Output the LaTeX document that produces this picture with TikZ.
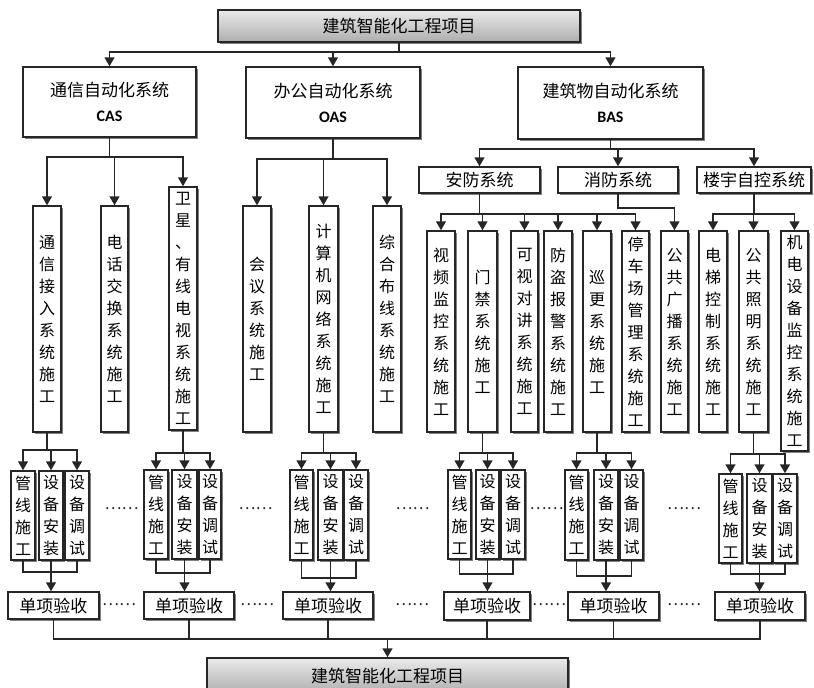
\documentclass[tikz,border=0pt]{standalone}
\usepackage{fontspec}
\newfontfamily\cjk{Noto Sans CJK SC}
\newfontfamily\lat{Carlito}
\usetikzlibrary{arrows.meta,shadows}
\tikzset{
  box/.style={draw=black!85, line width=1.5pt, fill=white, inner sep=0pt,
    drop shadow={shadow xshift=1.6pt, shadow yshift=-1.6pt, fill=black!50, opacity=1},
    font=\cjk\fontsize{17}{25}\selectfont, align=center},
  vbox/.style={box, font=\cjk\fontsize{16}{22}\selectfont},
  graybox/.style={box, top color=black!8, bottom color=black!32},
  conn/.style={draw=black!85, line width=1.6pt},
  arr/.style={conn, -{Triangle[width=10pt,length=9pt]}},
  dots/.style={font=\cjk\fontsize{16}{16}\selectfont, inner sep=0pt, text=black!85}
}
\newcommand\ab[1]{{\lat\bfseries\fontsize{16}{16}\selectfont #1}}
\newcommand\bx[7][box]{\node[#1,minimum width={(#5-#3)*1pt},minimum height={(#6-#4)*1pt}] (#2) at ({(#3+#5)/2},{(#4+#6)/2}) {#7};}
\begin{document}
\begin{tikzpicture}[x=1pt,y=-1pt]
\useasboundingbox (0,0) rectangle (814,688);
% top level
\bx[graybox]{top}{218}{10}{580}{42}{建筑智能化工程项目}
\bx{cas}{23}{67}{196}{137}{通信自动化系统\\\ab{CAS}}
\bx{oas}{246}{67}{420}{138}{办公自动化系统\\\ab{OAS}}
\bx{bas}{518}{67}{703}{139}{建筑物自动化系统\\\ab{BAS}}
\bx{af}{419}{167}{540}{193}{安防系统}
\bx{xf}{558}{167}{678}{193}{消防系统}
\bx{ly}{697}{167}{811}{193}{楼宇自控系统}
% leaves
\bx[vbox]{c1}{33}{206}{61}{432}{通\\信\\接\\入\\系\\统\\施\\工}
\bx[vbox]{c2}{101}{206}{128}{432}{电\\话\\交\\换\\系\\统\\施\\工}
\bx[vbox]{c3}{169}{187}{197}{430}{卫\\星\\、\\有\\线\\电\\视\\系\\统\\施\\工}
\bx[vbox]{o1}{243}{206}{271}{432}{会\\议\\系\\统\\施\\工}
\bx[vbox]{o2}{309}{206}{338}{432}{计\\算\\机\\网\\络\\系\\统\\施\\工}
\bx[vbox]{o3}{373}{206}{401}{432}{综\\合\\布\\线\\系\\统\\施\\工}
\bx[vbox]{b1}{427}{231}{455}{432}{视\\频\\监\\控\\系\\统\\施\\工}
\bx[vbox]{b2}{468}{231}{497}{432}{门\\禁\\系\\统\\施\\工}
\bx[vbox]{b3}{511}{231}{538}{432}{可\\视\\对\\讲\\系\\统\\施\\工}
\bx[vbox]{b4}{544}{231}{572}{432}{防\\盗\\报\\警\\系\\统\\施\\工}
\bx[vbox]{b5}{583}{231}{611}{432}{巡\\更\\系\\统\\施\\工}
\bx[vbox]{b6}{622}{231}{649}{432}{停\\车\\场\\管\\理\\系\\统\\施\\工}
\bx[vbox]{b7}{661}{231}{688}{432}{公\\共\\广\\播\\系\\统\\施\\工}
\bx[vbox]{b8}{699}{231}{727}{432}{电\\梯\\控\\制\\系\\统\\施\\工}
\bx[vbox]{b9}{739}{231}{768}{432}{公\\共\\照\\明\\系\\统\\施\\工}
\bx[vbox]{b10}{781}{231}{808}{451}{机\\电\\设\\备\\监\\控\\系\\统\\施\\工}
% connectors upper
\draw[conn] (top.south) -- ++(0,9) coordinate (j0);
\foreach \n in {cas,oas,bas} \draw[arr] (j0) -| (\n.north);
\draw[conn] (cas.south) -- ++(0,19) coordinate (j1);
\foreach \n in {c1,c2,c3} \draw[arr] (j1) -| (\n.north);
\draw[conn] (oas.south) -- ++(0,20) coordinate (j2);
\foreach \n in {o1,o2,o3} \draw[arr] (j2) -| (\n.north);
\draw[conn] (bas.south) -- ++(0,9) coordinate (j3);
\foreach \n in {af,xf,ly} \draw[arr] (j3) -| (\n.north);
\draw[conn] (af.south) -- ++(0,20) coordinate (j4);
\foreach \n in {b1,b2,b3,b4,b5,b6} \draw[arr] (j4) -| (\n.north);
\draw[arr] (xf.south) -- ++(0,14) -| (b7.north);
\draw[conn] (ly.south) -- ++(0,20) coordinate (j5);
\foreach \n in {b8,b9,b10} \draw[arr] (j5) -| (\n.north);
% groups
\bx[vbox]{g1a}{11}{471}{35}{560}{管\\线\\施\\工}
\bx[vbox]{g1b}{39}{471}{63}{560}{设\\备\\安\\装}
\bx[vbox]{g1c}{65}{471}{89}{560}{设\\备\\调\\试}
\bx{d1}{8}{592}{99}{619}{单项验收}
\bx[vbox]{g2a}{144}{470}{168}{559}{管\\线\\施\\工}
\bx[vbox]{g2b}{172}{470}{197}{559}{设\\备\\安\\装}
\bx[vbox]{g2c}{199}{470}{221}{559}{设\\备\\调\\试}
\bx{d2}{144}{592}{234}{619}{单项验收}
\bx[vbox]{g3a}{290}{470}{313}{560}{管\\线\\施\\工}
\bx[vbox]{g3b}{318}{470}{343}{560}{设\\备\\安\\装}
\bx[vbox]{g3c}{344}{470}{368}{560}{设\\备\\调\\试}
\bx{d3}{283}{592}{373}{619}{单项验收}
\bx[vbox]{g4a}{448}{470}{471}{559}{管\\线\\施\\工}
\bx[vbox]{g4b}{476}{470}{499}{559}{设\\备\\安\\装}
\bx[vbox]{g4c}{501}{470}{525}{559}{设\\备\\调\\试}
\bx{d4}{444}{592}{530}{620}{单项验收}
\bx[vbox]{g5a}{565}{470}{588}{560}{管\\线\\施\\工}
\bx[vbox]{g5b}{594}{470}{618}{560}{设\\备\\安\\装}
\bx[vbox]{g5c}{620}{470}{643}{560}{设\\备\\调\\试}
\bx{d5}{568}{592}{659}{620}{单项验收}
\bx[vbox]{g6a}{719}{474}{742}{563}{管\\线\\施\\工}
\bx[vbox]{g6b}{747}{474}{772}{563}{设\\备\\安\\装}
\bx[vbox]{g6c}{773}{474}{797}{563}{设\\备\\调\\试}
\bx{d6}{715}{592}{805}{620}{单项验收}
\bx[graybox]{bot}{207}{658}{568}{694}{建筑智能化工程项目}
% group connectors
\draw[conn] (c1.south) -- ++(0,17) coordinate (h1);
\draw[conn] (c3.south) -- ++(0,22) coordinate (h2);
\draw[conn] (o2.south) -- ++(0,20) coordinate (h3);
\draw[conn] (b2.south) -- ++(0,20) coordinate (h4);
\draw[conn] (b5.south) -- ++(0,20) coordinate (h5);
\draw[conn] (b9.south) -- ++(0,21) coordinate (h6);
\foreach \k in {1,...,6}{
  \foreach \s in {a,b,c} \draw[arr] (h\k) -| (g\k\s.north);
  \draw[arr] (g\k b.south) -- (g\k b.south |- d\k.north);
}
\draw[conn] (g1a.south) -- ++(0,11) -| (g1c.south);
\draw[conn] (g2a.south) -- ++(0,13) -| (g2c.south);
\draw[conn] (g3a.south) -- ++(0,17) -| (g3c.south);
\draw[conn] (g4a.south) -- ++(0,14) -| (g4c.south);
\draw[conn] (g5a.south) -- ++(0,15) -| (g5c.south);
\draw[conn] (g6a.south) -- ++(0,10) -| (g6c.south);
% bottom merge
\draw[conn] (d1.south) -- ++(0,19) coordinate (m1) -| (d6.south);
\foreach \n in {d2,d3,d4,d5} \draw[conn] (\n.south) -- (\n.south |- m1);
\draw[arr] (m1 -| bot.north) -- (bot.north);
% dots
\node[dots] (e1) at (121.5,509) {……};
\node[dots] (e2) at (255.5,509) {……};
\node[dots] (e3) at (412.5,509) {……};
\node[dots] (e4) at (546.5,509) {……};
\node[dots] (e5) at (684,509) {……};
\node[dots] (f1) at (119,605) {……};
\node[dots] (f2) at (257,605) {……};
\node[dots] (f3) at (412,605) {……};
\node[dots] (f4) at (549,605) {……};
\node[dots] (f5) at (684,605) {……};
\end{tikzpicture}
\end{document}
